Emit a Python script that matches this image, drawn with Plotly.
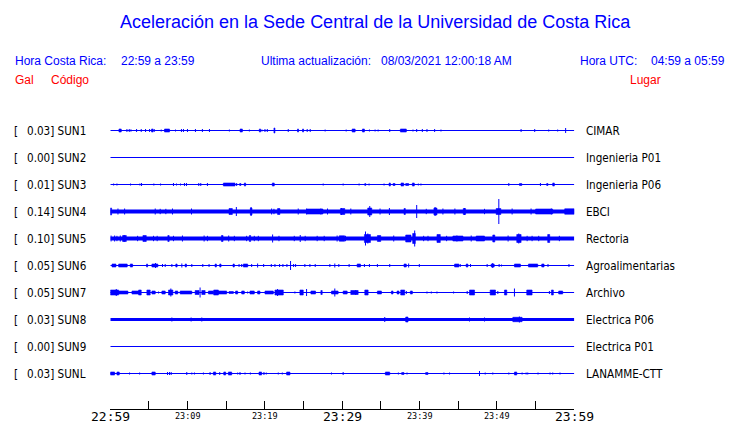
import plotly.graph_objects as go

# ---------------- header texts ----------------
title_text = "Aceleración en la Sede Central de la Universidad de Costa Rica"
hora_cr_label = "Hora Costa Rica:"
hora_cr_value = "22:59 a 23:59"
update_label = "Ultima actualización:"
update_value = "08/03/2021 12:00:18 AM"
hora_utc_label = "Hora UTC:"
hora_utc_value = "04:59 a 05:59"
col_gal = "Gal"
col_code = "Código"
col_place = "Lugar"

# ---------------- station data ----------------
stations = ["SUN1", "SUN2", "SUN3", "SUN4", "SUN5", "SUN6", "SUN7", "SUN8", "SUN9", "SUNL"]
gal_max = ["0.03", "0.00", "0.01", "0.14", "0.10", "0.05", "0.05", "0.03", "0.00", "0.03"]
places = ["CIMAR", "Ingenieria P01", "Ingenieria P06", "EBCI", "Rectoria",
          "Agroalimentarias", "Archivo", "Electrica P06", "Electrica P01", "LANAMME-CTT"]
# continuous background noise level (relative amplitude) per station
noise_floor = [0, 0, 0, 2, 2, 0, 0, 1.5, 0, 0]

# time axis: minutes after 22:59 (Costa Rica time)
time_ticks = [0, 5, 10, 15, 20, 25, 30, 35, 40, 45, 50, 55, 60]
time_labels = ["22:59", "", "23:09", "", "23:19", "", "23:29", "", "23:39", "", "23:49", "", "23:59"]
major_labels = ["22:59", "23:29", "23:59"]

# events read from the record: [start minute, end minute, relative amplitude]
sun1_events = [[1.12, 1.42, 1.5], [2.15, 2.15, 1.5], [2.45, 2.45, 1.5], [2.67, 2.67, 1.2], [3.40, 3.40, 1.5],
               [4.0, 4.0, 1.5], [4.56, 4.56, 1.5], [5.08, 5.08, 1.5], [5.33, 5.55, 1.5], [5.72, 5.72, 1.2],
               [6.58, 6.58, 1], [7.01, 7.66, 1.5], [8.43, 8.43, 1], [9.20, 9.20, 1.5], [9.46, 9.46, 1.5],
               [9.98, 9.98, 1.5], [11.01, 11.01, 1.5], [11.91, 11.91, 1.5], [12.82, 12.82, 1.5],
               [15.40, 15.40, 1], [16.78, 17.08, 1.5], [17.98, 17.98, 1], [19.27, 19.44, 1.5],
               [19.61, 19.61, 1], [20.0, 20.0, 1.5], [20.30, 20.30, 1.5], [21.16, 21.29, 2.5],
               [23.01, 23.01, 1.5], [24.21, 24.34, 1.5], [24.86, 24.99, 1.5], [25.46, 25.46, 1.5],
               [25.85, 25.85, 1.5], [27.78, 27.78, 1], [30.50, 30.50, 1], [31.27, 31.66, 1.5],
               [32.60, 32.86, 1.5], [33.51, 33.51, 1], [34.24, 34.24, 1], [34.63, 34.63, 1],
               [36.13, 36.13, 1.5], [37.51, 38.28, 1.5], [39.14, 39.14, 1], [39.62, 39.62, 1.5],
               [40.35, 40.35, 1.5], [40.95, 40.95, 1.5], [41.94, 41.94, 1.5], [42.76, 42.76, 1],
               [53.12, 53.12, 1.5], [54.88, 54.88, 1.5], [56.69, 56.69, 1], [57.85, 57.85, 1],
               [58.88, 58.88, 2.5]]
sun2_events = []
sun3_events = [[0.43, 0.43, 1], [0.86, 0.86, 1], [2.62, 2.62, 1], [3.83, 3.83, 1], [4.04, 4.04, 1.5],
               [5.63, 5.63, 1], [6.50, 6.50, 1], [8.17, 8.17, 1.5], [8.56, 8.56, 1], [9.08, 9.08, 1],
               [9.59, 9.59, 1.5], [9.85, 9.85, 1.5], [11.44, 11.44, 1.5], [11.70, 11.70, 1.5],
               [12.56, 12.56, 1.5], [14.62, 16.13, 1.5], [16.34, 16.34, 1.5], [16.73, 16.90, 1],
               [17.33, 17.50, 1.5], [20.95, 21.20, 1.5], [27.53, 27.53, 1], [30.11, 30.11, 1],
               [32.17, 32.17, 1], [32.91, 33.03, 1], [33.46, 33.46, 1], [35.40, 35.40, 1],
               [36.05, 36.22, 1.5], [36.56, 36.82, 1], [37.59, 37.94, 1.5], [38.20, 38.58, 1],
               [39.06, 39.31, 1.5], [39.83, 39.83, 1], [40.17, 40.17, 1], [51.53, 51.53, 1.5],
               [52.91, 53.21, 1], [55.62, 55.62, 1.5], [56.43, 56.60, 1], [57.21, 57.42, 1.5]]
sun4_events = [[0.0, 0.17, 3.5], [0.99, 0.99, 3], [1.85, 1.85, 3], [5.81, 5.81, 3], [6.45, 6.45, 2.7],
               [7.18, 7.18, 2.7], [8.04, 8.04, 3], [10.50, 10.50, 3], [15.35, 15.78, 3], [16.30, 16.30, 4.5],
               [18.11, 18.32, 3.5], [18.2, 18.2, 4.5], [20.86, 20.86, 3], [21.16, 21.16, 2.7],
               [21.63, 21.93, 3], [24.30, 24.30, 3], [25.38, 25.38, 3], [25.4, 27.5, 2.5],
               [27.23, 27.23, 3], [28.09, 28.09, 3], [29.76, 30.32, 3], [29.90, 29.90, 3.5],
               [31.10, 31.10, 3], [33.29, 33.81, 3.5], [33.55, 33.55, 5.5], [34.88, 34.88, 3],
               [36.09, 36.09, 3.5], [37.98, 38.15, 3], [39.62, 39.62, 6.5], [40.86, 40.86, 2.7],
               [41.85, 42.24, 3.5], [42.0, 42.0, 4.5], [43.01, 43.01, 3], [44.56, 44.56, 3],
               [45.64, 45.94, 3], [45.8, 45.8, 3.5], [48.39, 48.39, 2.7], [49.9, 50.5, 3],
               [50.24, 50.24, 12.5], [51.96, 51.96, 3], [54.41, 54.41, 3], [55.0, 57.2, 2.5],
               [57.03, 57.03, 3], [58.76, 60.0, 2.7]]
sun5_events = [[0.09, 0.09, 3], [0.56, 0.56, 3], [0.86, 0.86, 2.7], [1.29, 1.29, 3], [1.59, 2.07, 3],
               [1.8, 1.8, 3.5], [3.53, 3.53, 2.7], [4.22, 4.65, 3], [5.59, 5.59, 2.7], [6.06, 6.06, 2.7],
               [7.44, 7.61, 3], [8.17, 8.17, 2.7], [9.33, 9.33, 3], [12.13, 12.13, 3], [12.56, 12.56, 2.7],
               [14.37, 14.58, 3], [15.31, 15.31, 3], [16.04, 16.04, 2.7], [17.63, 17.63, 2.7],
               [17.98, 18.15, 3], [18.62, 18.62, 2.7], [19.14, 19.14, 2.7], [20.99, 20.99, 4],
               [21.81, 21.81, 2.7], [23.79, 23.79, 2.7], [24.56, 24.56, 3.5], [25.2, 25.2, 2.7],
               [26.75, 26.75, 2.7], [27.66, 27.66, 2.7], [29.33, 29.33, 3], [29.6, 30.3, 2.7],
               [30.41, 30.41, 2.7], [32.86, 33.64, 4], [33.0, 33.0, 7], [33.3, 33.3, 5],
               [34.54, 34.97, 3], [36.65, 36.65, 3], [38.20, 38.88, 3.5], [39.10, 39.44, 5],
               [39.36, 39.36, 8], [40.52, 40.52, 2.7], [41.08, 41.08, 2.7], [42.24, 42.67, 4],
               [43.49, 43.49, 2.7], [44.3, 45.6, 2.5], [44.82, 44.82, 3], [46.67, 46.67, 3],
               [47.31, 48.39, 2.5], [49.46, 49.72, 3.5], [51.44, 51.44, 3], [52.56, 53.12, 4],
               [52.82, 52.82, 5], [53.90, 53.90, 2.7], [54.54, 54.54, 2.7], [55.40, 55.40, 2.7],
               [56.56, 56.82, 4], [58.07, 58.07, 2.7]]
sun6_events = [[0.22, 0.73, 1.5], [1.08, 2.19, 1.5], [2.58, 2.88, 1.5], [4.69, 4.82, 1.5], [5.38, 6.15, 1.5],
               [5.85, 5.85, 2.5], [6.75, 6.75, 1.5], [7.10, 7.10, 1.5], [7.96, 7.96, 1.5], [8.47, 8.64, 1.5],
               [9.25, 9.25, 2], [9.68, 9.85, 1.5], [10.54, 10.54, 1.5], [11.96, 11.96, 1.5],
               [12.77, 12.77, 1.5], [13.55, 13.72, 1.5], [14.15, 14.32, 1.5], [15.87, 16.04, 1.5],
               [16.65, 16.65, 1.5], [16.99, 16.99, 1.5], [17.2, 17.77, 1.5], [18.28, 18.28, 1.5],
               [19.05, 19.05, 2], [19.83, 19.83, 1.5], [20.82, 20.82, 1.5], [21.29, 21.29, 1.5],
               [21.89, 21.89, 1.5], [22.32, 22.32, 1.5], [22.84, 22.84, 1.5], [23.31, 23.31, 4.5],
               [23.70, 23.70, 1.5], [23.96, 23.96, 1.5], [25.16, 25.16, 1.5], [25.81, 25.81, 1.5],
               [26.5, 26.5, 1.5], [28.39, 28.39, 1.5], [29.03, 29.03, 2], [29.55, 29.55, 1.5],
               [30.88, 30.88, 1.5], [31.92, 32.35, 1.5], [32.86, 32.86, 1.5], [33.51, 33.51, 1.5],
               [34.54, 34.54, 1.5], [36.13, 36.13, 1.5], [37.98, 38.28, 1.5], [38.58, 38.58, 2],
               [39.96, 39.96, 1.5], [44.52, 45.08, 1.5], [45.25, 45.25, 1.5], [46.02, 46.24, 1.5],
               [46.58, 46.58, 1.5], [48.73, 48.73, 1.5], [49.25, 49.64, 1.5], [49.45, 49.45, 2.5],
               [50.28, 50.28, 1.5], [50.58, 50.58, 1], [52.26, 53.03, 1.5], [54.07, 55.27, 1.5],
               [55.79, 56.09, 1.5], [56.60, 56.60, 1.5], [59.31, 59.31, 1.5]]
sun7_events = [[0.0, 1.08, 2.5], [0.77, 0.77, 3.5], [1.08, 2.28, 1.5], [2.8, 3.66, 1.5], [3.66, 4.0, 2.5],
               [4.73, 5.16, 2.5], [5.38, 5.81, 1.5], [6.24, 6.24, 1], [6.67, 7.10, 1.5], [7.53, 8.09, 2.5],
               [7.83, 7.83, 4], [8.39, 8.73, 1.5], [9.03, 10.54, 1.5], [10.97, 11.48, 2], [11.61, 11.61, 5],
               [11.83, 12.26, 2], [12.69, 13.33, 1.5], [13.37, 13.98, 2.5], [13.98, 15.05, 1.5],
               [15.35, 15.91, 1], [16.2, 16.47, 1.5], [16.99, 17.33, 1.5], [17.76, 17.76, 1],
               [18.06, 18.62, 1.5], [19.05, 19.35, 1.5], [20.0, 21.08, 1.5], [21.29, 22.37, 2.5],
               [21.63, 21.63, 3.5], [23.87, 23.87, 1], [24.52, 24.95, 2.5], [25.38, 25.38, 3.5],
               [25.94, 26.54, 1.5], [27.23, 27.40, 2], [28.60, 29.46, 1.5], [29.03, 29.03, 4],
               [30.11, 30.63, 1.5], [31.10, 32.05, 2], [31.74, 31.74, 2.5], [32.91, 33.34, 2.5],
               [34.54, 35.06, 1.5], [36.35, 36.56, 1.5], [37.08, 37.34, 1.5], [37.55, 38.07, 2.5],
               [38.28, 38.28, 1.5], [38.80, 39.06, 1.5], [40.95, 40.95, 1], [41.51, 41.51, 1],
               [42.24, 42.24, 1], [44.39, 44.39, 1], [46.15, 46.15, 1.5], [46.45, 47.10, 2.5],
               [49.12, 49.81, 2.5], [50.11, 50.11, 1.5], [50.97, 51.27, 2.5], [52.26, 52.26, 4],
               [53.85, 54.54, 2.5], [56.78, 56.78, 1.5], [57.04, 57.29, 2.5], [57.98, 58.50, 1.5]]
sun8_events = [[7.96, 7.96, 2], [10.45, 10.45, 2], [11.83, 11.83, 2], [35.49, 35.49, 2.5],
               [38.20, 38.50, 2.5], [46.45, 46.45, 2], [48.39, 48.39, 2], [52.05, 53.25, 2.2],
               [52.9, 52.9, 3]]
sun9_events = []
sunl_events = [[0.0, 0.56, 1.5], [0.86, 1.16, 1.5], [2.49, 2.49, 1], [3.79, 3.79, 1], [5.38, 5.81, 1.5],
               [7.40, 7.40, 1.5], [7.66, 7.66, 1.5], [7.87, 7.87, 1.5], [9.89, 9.89, 1.5],
               [10.54, 10.54, 1], [10.88, 10.88, 1], [12.04, 12.04, 1], [12.90, 12.90, 1.5],
               [13.33, 13.63, 1.5], [14.15, 14.15, 1.5], [14.67, 14.92, 1.5], [15.27, 15.70, 1.5],
               [16.47, 16.47, 1], [16.77, 16.77, 1.5], [17.42, 17.42, 1], [18.11, 18.11, 1],
               [19.23, 19.57, 1.5], [19.87, 19.87, 1.5], [20.17, 20.17, 1], [21.72, 21.72, 1],
               [22.24, 22.24, 1], [22.8, 23.23, 1.5], [28.60, 28.60, 1], [30.11, 30.11, 1.5],
               [35.57, 36.13, 1.5], [37.25, 37.25, 1], [37.68, 37.98, 1], [38.37, 38.37, 1],
               [40.78, 41.08, 1], [43.14, 43.14, 1], [43.87, 43.87, 1], [47.74, 47.74, 2.5],
               [48.48, 48.48, 1], [49.46, 49.46, 1], [51.53, 51.53, 1], [52.26, 52.56, 1.5],
               [53.25, 53.25, 1], [53.77, 53.77, 1], [53.98, 53.98, 1], [55.31, 55.31, 1],
               [56.86, 56.86, 1], [57.21, 57.21, 1], [58.15, 58.15, 1]]

station_events = [sun1_events, sun2_events, sun3_events, sun4_events, sun5_events,
                  sun6_events, sun7_events, sun8_events, sun9_events, sunl_events]

# ---------------- layout constants ----------------
W, H = 740, 423
BLUE = "#0000ff"
RED = "#ff0000"
ROW_TOP = 130.5      # vertical pixel of the first trace
ROW_STEP = 27        # spacing between traces
T_END = time_ticks[-1]
PAD = 2              # annotation box padding

fig = go.Figure()

for i, (events, floor) in enumerate(zip(station_events, noise_floor)):
    c = ROW_TOP + i * ROW_STEP
    fig.add_trace(go.Scatter(x=[0, T_END], y=[c, c], mode="lines",
                             line=dict(color=BLUE, width=max(1, 2 * floor)),
                             hoverinfo="skip", showlegend=False))
    sx, sy, bx, by = [], [], [], []
    for t0, t1, a in events:
        if t1 - t0 < 0.05:
            sx += [t0, t0, None]
            sy += [c - a, c + a, None]
        else:
            bx += [t0, t1, t1, t0, t0, None]
            by += [c - a, c - a, c + a, c + a, c - a, None]
    if sx:
        fig.add_trace(go.Scatter(x=sx, y=sy, mode="lines", line=dict(color=BLUE, width=1),
                                 hoverinfo="skip", showlegend=False))
    if bx:
        fig.add_trace(go.Scatter(x=bx, y=by, mode="lines", fill="toself", fillcolor=BLUE,
                                 line=dict(color=BLUE, width=0.6), hoverinfo="skip", showlegend=False))

annotations = []


def txt(text, xpx, ypx, size, color="black", family="Liberation Sans, Arial, sans-serif", anchor="left"):
    if anchor == "left":
        xpx -= PAD
    annotations.append(dict(text=text, x=xpx / W, xref="paper", y=ypx, yref="y",
                            xanchor=anchor, yanchor="middle", showarrow=False,
                            font=dict(size=size, color=color, family=family)))


# header
txt(title_text, 375, 22, 18, BLUE, anchor="center")
txt(hora_cr_label, 15, 61, 12, BLUE)
txt(hora_cr_value, 121, 61, 12, BLUE)
txt(update_label, 261, 61, 12, BLUE)
txt(update_value, 381, 61, 12, BLUE)
txt(hora_utc_label, 580, 61, 12, BLUE)
txt(hora_utc_value, 651, 61, 12, BLUE)
txt(col_gal, 15, 80, 12, RED)
txt(col_code, 51, 80, 12, RED)
txt(col_place, 630, 80, 12, RED)

LABEL_FONT = "DejaVu Sans Condensed, DejaVu Sans, sans-serif"
LABEL_SIZE = 11.6
for i, (st, g, pl) in enumerate(zip(stations, gal_max, places)):
    c = ROW_TOP + i * ROW_STEP
    txt("[", 14, c, LABEL_SIZE, "black", LABEL_FONT)
    txt(f"{g}] {st}", 27, c, LABEL_SIZE, "black", LABEL_FONT)
    txt(pl, 586, c, LABEL_SIZE, "black", LABEL_FONT)

# time tick labels
for t, lab in zip(time_ticks, time_labels):
    if not lab:
        continue
    big = lab in major_labels
    annotations.append(dict(text=lab, x=t, xref="x", y=416.5 if big else 416, yref="y",
                            xanchor="center", yanchor="middle", showarrow=False,
                            font=dict(size=13 if big else 8.5, color="black",
                                      family="DejaVu Sans Mono, monospace")))

X0, X1 = 110.3, 574.3
fig.update_layout(
    width=W, height=H, margin=dict(l=0, r=0, t=0, b=0),
    paper_bgcolor="white", plot_bgcolor="white",
    showlegend=False,
    xaxis=dict(domain=[X0 / W, X1 / W], range=[0, T_END], anchor="free", position=(H - 409) / H,
               showline=True, linecolor="black", linewidth=1, ticks="inside", ticklen=8,
               tickcolor="black", tickwidth=1, tickvals=time_ticks, showticklabels=False,
               showgrid=False, zeroline=False, fixedrange=True),
    yaxis=dict(domain=[0, 1], range=[H, 0], visible=False, showgrid=False, zeroline=False,
               fixedrange=True),
    annotations=annotations,
)

fig.write_html("out.html", config={"displayModeBar": False},
               post_script="document.body.style.margin='0';document.body.style.overflow='hidden';")
